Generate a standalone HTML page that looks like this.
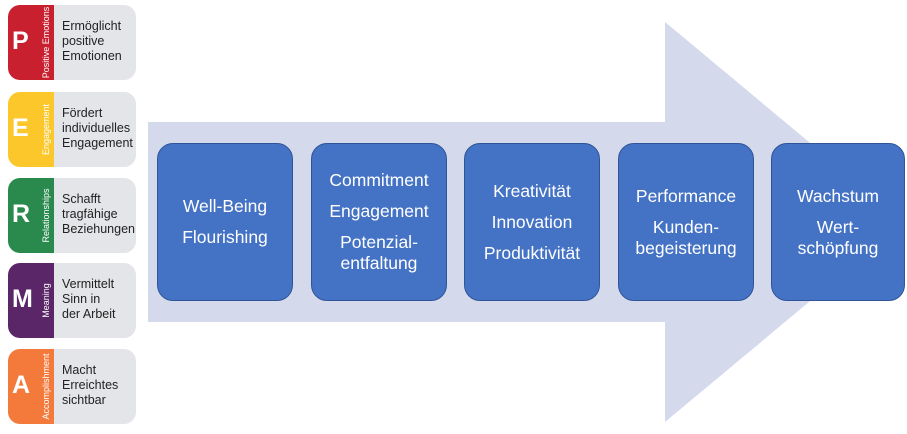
<!DOCTYPE html>
<html><head><style>
body{margin:0;width:907px;height:434px;background:#fff;position:relative;overflow:hidden;font-family:"Liberation Sans",sans-serif}
.c{position:absolute;left:8px;width:46px;height:75px;border-radius:12px 0 0 12px;color:#fff}
.c b{position:absolute;left:4px;top:22px;font-size:25px;font-weight:bold}
.c i{position:absolute;font-style:normal;font-size:9px;white-space:nowrap;transform:rotate(-90deg);transform-origin:left top;width:75px;text-align:center;top:75px;left:33px}
.g{position:absolute;left:54px;width:82px;height:75px;background:#e3e5e8;border-radius:0 12px 12px 0;font-size:12.5px;line-height:15px;color:#222;box-sizing:border-box;padding:14px 0 0 8px}
.b{position:absolute;top:143px;height:158px;width:136px;background:#4472c4;border:1.5px solid #2f5597;border-radius:16px;box-sizing:border-box;color:#fff;font-size:17.5px;line-height:21px;display:flex;flex-direction:column;align-items:center;justify-content:center;text-align:center}
.b p{margin:5px 0}
</style></head><body>
<svg style="position:absolute;left:0;top:0" width="907" height="434"><polygon points="148,122 665,122 665,22 905,222 665,422 665,322 148,322" fill="#d4d9ec"/></svg>
<div class="c" style="top:5px;background:#c8202f"><b>P</b><i>Positive Emotions</i></div><div class="g" style="top:5px">Ermöglicht<br>positive<br>Emotionen</div>
<div class="c" style="top:92px;background:#fcc72a"><b>E</b><i>Engagement</i></div><div class="g" style="top:92px">Fördert<br>individuelles<br>Engagement</div>
<div class="c" style="top:178px;background:#2a8a4e"><b>R</b><i>Relationships</i></div><div class="g" style="top:178px">Schafft<br>tragfähige<br>Beziehungen</div>
<div class="c" style="top:263px;background:#5a2668"><b>M</b><i>Meaning</i></div><div class="g" style="top:263px">Vermittelt<br>Sinn in<br>der Arbeit</div>
<div class="c" style="top:349px;background:#f47a3c"><b>A</b><i>Accomplishment</i></div><div class="g" style="top:349px">Macht<br>Erreichtes<br>sichtbar</div>
<div class="b" style="left:157px"><p>Well-Being</p><p>Flourishing</p></div>
<div class="b" style="left:311px"><p>Commitment</p><p>Engagement</p><p>Potenzial-<br>entfaltung</p></div>
<div class="b" style="left:464px"><p>Kreativität</p><p>Innovation</p><p>Produktivität</p></div>
<div class="b" style="left:618px"><p>Performance</p><p>Kunden-<br>begeisterung</p></div>
<div class="b" style="left:771px;width:134px"><p>Wachstum</p><p>Wert-<br>schöpfung</p></div>
</body></html>
